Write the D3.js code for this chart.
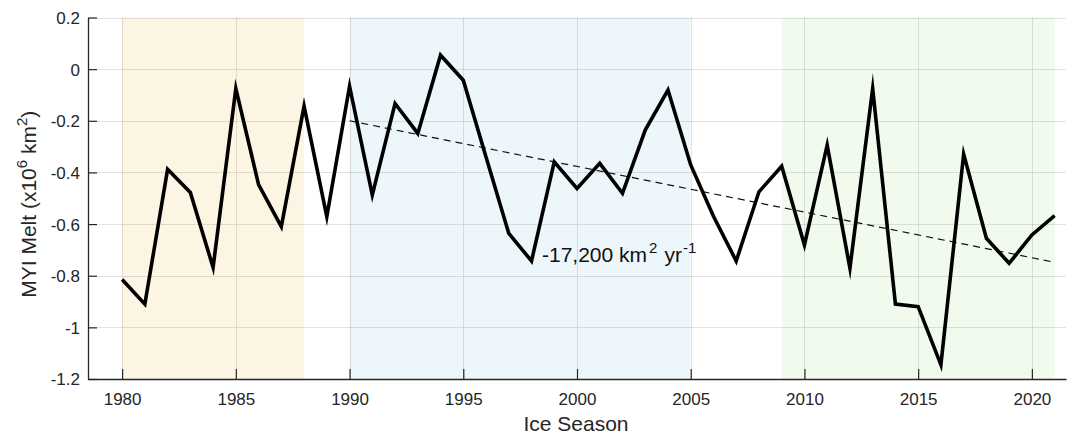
<!DOCTYPE html>
<html>
<head>
<meta charset="utf-8">
<script src="https://cdn.jsdelivr.net/npm/d3@7"></script>
<style>
  html, body { margin: 0; padding: 0; background: #fff; }
  svg { display: block; font-family: "Liberation Sans", Arial, Helvetica, sans-serif; }
</style>
</head>
<body>
<svg id="chart" width="1070" height="434"></svg>
<script>
// ---- data ----
const years = [1980,1981,1982,1983,1984,1985,1986,1987,1988,1989,1990,1991,1992,1993,1994,1995,1996,1997,1998,1999,2000,2001,2002,2003,2004,2005,2006,2007,2008,2009,2010,2011,2012,2013,2014,2015,2016,2017,2018,2019,2020,2021];
const melt = [-0.815,-0.910,-0.388,-0.478,-0.768,-0.075,-0.447,-0.610,-0.143,-0.571,-0.066,-0.487,-0.133,-0.249,0.054,-0.043,-0.340,-0.636,-0.743,-0.359,-0.462,-0.365,-0.481,-0.236,-0.081,-0.371,-0.570,-0.743,-0.475,-0.376,-0.681,-0.294,-0.771,-0.075,-0.910,-0.920,-1.145,-0.329,-0.655,-0.752,-0.642,-0.567];
const trendYears = [1990, 2021];
const trendValues = [-0.200, -0.748];
const periodStart = [1980, 1990, 2009];
const periodEnd = [1988, 2005, 2021];
const periodColors = ["#fdf5e3", "#edf6fa", "#f0fbed"];
const xTicks = [1980,1985,1990,1995,2000,2005,2010,2015,2020];
const yTicks = [-1.2,-1,-0.8,-0.6,-0.4,-0.2,0,0.2];
const trendLabel = "-17,200 km";

// ---- layout ----
const svg = d3.select("#chart");
const pL = 88, pR = 1066, pT = 17.5, pB = 379;
const x = d3.scaleLinear().domain([1978.5, 2021.5]).range([pL, pR]);
const y = d3.scaleLinear().domain([-1.2, 0.2]).range([pB, pT]);
const ink = "#262626";

// shaded periods
svg.append("g").selectAll("rect").data(periodStart).join("rect")
  .attr("x", (d) => x(d))
  .attr("width", (d, i) => x(periodEnd[i]) - x(d))
  .attr("y", pT).attr("height", pB - pT)
  .attr("fill", (d, i) => periodColors[i]);

// grid
const grid = svg.append("g").attr("stroke", "#000").attr("stroke-opacity", 0.11).attr("stroke-width", 1);
grid.selectAll("line.v").data(xTicks).join("line").attr("class", "v")
  .attr("x1", (d) => Math.round(x(d)) + 0.5).attr("x2", (d) => Math.round(x(d)) + 0.5)
  .attr("y1", pT).attr("y2", pB);
grid.selectAll("line.h").data(yTicks).join("line").attr("class", "h")
  .attr("y1", (d) => Math.round(y(d)) + 0.5).attr("y2", (d) => Math.round(y(d)) + 0.5)
  .attr("x1", pL).attr("x2", pR);

// axes
const xAxis = d3.axisBottom(x).tickValues(xTicks).tickFormat(d3.format("d")).tickSizeInner(-10).tickSizeOuter(0).tickPadding(14);
const yAxis = d3.axisLeft(y).tickValues(yTicks).tickFormat((d) => String(+d.toFixed(1))).tickSizeInner(-9).tickSizeOuter(0).tickPadding(8);

const gx = svg.append("g").attr("transform", `translate(0,${pB})`).call(xAxis);
const gy = svg.append("g").attr("transform", `translate(${pL},0)`).call(yAxis);
[gx, gy].forEach((g) => {
  g.select(".domain").attr("stroke", ink).attr("stroke-width", 1.3);
  g.selectAll(".tick line").attr("stroke", ink).attr("stroke-width", 1.2);
  g.selectAll(".tick text").attr("fill", ink).attr("font-size", 17).attr("font-family", "Liberation Sans, Arial, sans-serif");
});
gy.selectAll(".tick text").attr("dy", "0.35em");

// trend line (dashed)
svg.append("path")
  .datum(trendYears.map((d, i) => [d, trendValues[i]]))
  .attr("d", d3.line().x((d) => x(d[0])).y((d) => y(d[1])))
  .attr("fill", "none").attr("stroke", "#111").attr("stroke-width", 1.2)
  .attr("stroke-dasharray", "7,5");

// main series
svg.append("path")
  .datum(years.map((d, i) => [d, melt[i]]))
  .attr("d", d3.line().x((d) => x(d[0])).y((d) => y(d[1])))
  .attr("fill", "none").attr("stroke", "#000").attr("stroke-width", 3.6)
  .attr("stroke-linejoin", "miter").attr("stroke-miterlimit", 10);

// annotation
const ann = svg.append("text").attr("x", 542).attr("y", 262).attr("fill", "#111").attr("font-size", 21);
ann.append("tspan").text(trendLabel);
ann.append("tspan").attr("font-size", 15).attr("dy", -9).attr("dx", 2).text("2");
ann.append("tspan").attr("dy", 9).attr("dx", 7).text("yr");
ann.append("tspan").attr("font-size", 15).attr("dy", -9).attr("dx", 1).text("-1");

// axis titles
svg.append("text").attr("x", (pL + pR) / 2 - 1).attr("y", 431)
  .attr("text-anchor", "middle").attr("fill", ink).attr("font-size", 21).text("Ice Season");

const yl = svg.append("text").attr("transform", `translate(36,${(pT + pB) / 2 + 6}) rotate(-90)`)
  .attr("text-anchor", "middle").attr("fill", ink).attr("font-size", 21);
yl.append("tspan").text("MYI Melt (x10");
yl.append("tspan").attr("font-size", 15).attr("dy", -9).text("6");
yl.append("tspan").attr("dy", 9).text(" km");
yl.append("tspan").attr("font-size", 15).attr("dy", -9).text("2");
yl.append("tspan").attr("dy", 9).text(")");
</script>
</body>
</html>
